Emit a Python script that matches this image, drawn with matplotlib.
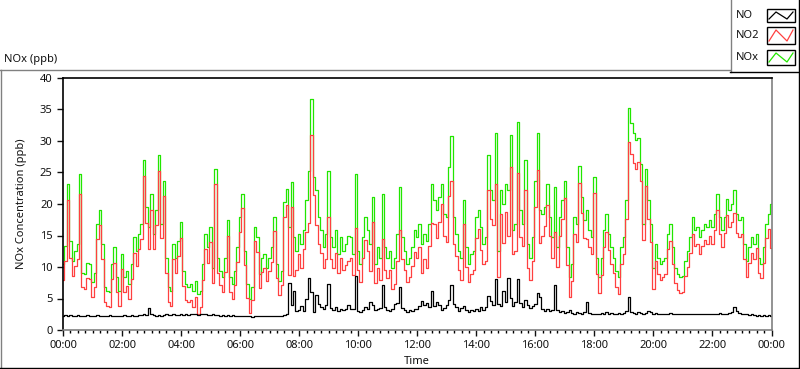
import matplotlib.pyplot as plt
import matplotlib.dates as mdates
from matplotlib.lines import Line2D
from matplotlib.patches import Rectangle
import pandas as pd

# 5-minute readings, 00:00 .. 24:00 (289 values each)
nox = [
    10.5, 13.4, 23.1, 14.2, 11.0, 12.6, 13.7, 24.7, 9.1, 8.9, 10.7, 10.5,
    7.6, 9.1, 16.9, 19.0, 13.7, 6.8, 6.2, 6.0, 10.5, 13.1, 8.4, 6.2,
    12.1, 8.4, 9.4, 7.3, 10.5, 14.7, 12.6, 15.3, 16.9, 27.0, 19.5, 16.3,
    21.6, 15.3, 19.0, 27.7, 16.9, 23.7, 11.5, 6.8, 6.2, 13.7, 11.5, 14.2,
    17.1, 9.4, 7.3, 6.8, 7.3, 6.2, 7.8, 5.7, 6.2, 10.5, 15.3, 13.1,
    16.3, 9.9, 25.6, 11.5, 9.4, 8.4, 11.5, 17.4, 8.4, 7.3, 9.4, 13.1,
    17.9, 21.6, 12.6, 7.3, 5.0, 6.8, 16.3, 14.7, 8.9, 11.5, 12.1, 9.9,
    11.5, 13.1, 17.9, 10.5, 7.8, 9.4, 20.3, 22.4, 16.3, 23.5, 14.7, 12.6,
    15.3, 13.7, 15.8, 20.6, 25.3, 36.6, 24.3, 22.2, 17.9, 15.8, 13.1, 15.3,
    25.3, 14.7, 13.1, 15.8, 12.1, 14.7, 12.6, 13.7, 15.0, 14.7, 12.1, 24.8,
    12.6, 10.5, 14.7, 17.9, 15.8, 13.7, 21.1, 10.5, 13.1, 11.5, 21.6, 13.1,
    11.5, 12.6, 9.9, 11.5, 15.3, 22.7, 14.7, 12.6, 10.5, 11.5, 13.1, 15.8,
    14.7, 16.9, 13.7, 15.3, 14.2, 16.9, 23.2, 20.6, 19.0, 21.1, 23.2, 18.4,
    17.9, 25.9, 30.8, 17.9, 15.3, 12.6, 11.5, 20.6, 13.1, 10.5, 12.1, 12.6,
    17.9, 19.0, 16.3, 13.7, 14.7, 27.7, 22.2, 20.6, 31.2, 12.6, 22.2, 20.0,
    23.2, 22.2, 30.9, 15.8, 16.9, 33.0, 19.0, 16.9, 27.0, 13.7, 11.5, 14.7,
    23.7, 31.2, 19.0, 18.4, 19.5, 23.2, 17.9, 14.7, 22.7, 13.1, 17.9, 20.6,
    23.7, 13.1, 8.4, 10.5, 17.9, 16.9, 26.1, 21.1, 17.4, 19.0, 15.8, 14.7,
    24.3, 11.5, 8.4, 11.5, 15.8, 18.4, 15.3, 13.1, 11.5, 9.4, 8.4, 13.1,
    14.7, 20.6, 35.2, 32.8, 31.2, 30.1, 30.4, 26.4, 16.9, 25.6, 20.6, 16.9,
    9.8, 13.7, 11.5, 10.5, 11.0, 11.5, 15.3, 16.9, 13.1, 9.9, 8.9, 8.4,
    8.6, 11.0, 12.6, 14.7, 17.9, 15.8, 16.3, 14.7, 15.8, 16.9, 16.3, 17.4,
    16.3, 18.4, 21.6, 17.9, 15.8, 17.9, 20.8, 19.0, 20.0, 22.2, 18.4, 17.4,
    17.9, 13.7, 11.0, 13.1, 14.7, 13.7, 15.3, 11.5, 10.5, 13.1, 16.9, 18.4,
    20.0,
]

no2 = [
    8.0, 10.9, 20.6, 11.5, 8.6, 10.1, 11.2, 21.6, 6.8, 6.5, 8.2, 8.1,
    5.2, 6.8, 14.4, 16.6, 11.3, 4.4, 3.8, 3.6, 8.1, 10.7, 6.1, 3.8,
    9.7, 6.0, 7.0, 4.9, 8.1, 12.3, 10.2, 12.9, 14.4, 24.4, 17.0, 12.8,
    19.0, 12.9, 16.6, 25.2, 14.6, 21.2, 9.0, 4.4, 3.8, 11.2, 9.1, 11.8,
    14.6, 7.0, 4.8, 4.4, 4.8, 3.6, 5.3, 2.6, 3.7, 7.9, 12.8, 10.7,
    13.9, 7.4, 23.2, 9.1, 7.1, 6.0, 9.2, 15.0, 6.1, 4.9, 7.1, 10.8,
    15.6, 19.4, 10.3, 5.1, 2.7, 4.7, 14.1, 12.4, 6.7, 9.2, 9.8, 7.7,
    9.3, 10.8, 15.7, 8.2, 5.6, 7.1, 17.9, 19.9, 8.8, 19.5, 8.5, 9.6,
    12.1, 9.9, 12.8, 15.6, 17.0, 31.0, 21.5, 16.7, 13.7, 12.2, 9.8, 11.3,
    18.0, 11.2, 9.9, 12.2, 9.1, 11.4, 9.5, 10.3, 11.0, 11.4, 8.7, 16.2,
    9.6, 7.6, 11.5, 14.3, 12.5, 9.3, 17.1, 7.4, 9.8, 8.0, 14.5, 9.5,
    8.3, 9.6, 6.5, 7.3, 11.0, 15.9, 11.2, 9.5, 7.6, 8.4, 10.1, 12.4,
    11.4, 13.1, 9.1, 11.3, 9.9, 13.3, 17.0, 16.8, 14.6, 17.2, 20.0, 14.9,
    13.9, 21.2, 23.7, 13.7, 11.7, 9.6, 8.0, 16.8, 10.0, 7.6, 8.9, 9.6,
    14.6, 16.0, 12.7, 10.5, 11.0, 22.3, 17.6, 16.6, 23.1, 8.4, 18.4, 13.8,
    18.7, 15.0, 25.8, 12.0, 12.5, 24.9, 14.7, 13.3, 22.2, 9.8, 8.0, 10.9,
    19.5, 25.4, 13.8, 15.0, 16.5, 19.9, 14.9, 11.5, 15.6, 10.0, 15.0, 17.6,
    21.0, 10.3, 5.3, 7.8, 15.3, 14.0, 23.4, 18.5, 14.6, 14.5, 13.1, 12.1,
    21.8, 8.9, 5.9, 8.8, 13.2, 15.6, 12.7, 10.4, 9.0, 6.8, 5.7, 10.5,
    12.0, 17.6, 29.9, 27.9, 26.5, 25.5, 26.6, 23.7, 14.3, 22.9, 17.6, 14.0,
    6.5, 11.0, 8.9, 8.0, 8.4, 8.9, 12.8, 14.2, 10.5, 7.4, 6.3, 5.8,
    6.0, 8.5, 10.0, 12.2, 15.3, 13.3, 13.7, 12.1, 13.3, 14.3, 13.7, 14.9,
    13.7, 15.9, 19.0, 15.2, 13.2, 15.4, 18.2, 16.3, 17.1, 18.6, 15.4, 14.7,
    15.3, 11.2, 8.4, 10.7, 12.2, 11.3, 13.0, 9.1, 8.3, 10.7, 14.6, 16.0,
    13.0,
]

no = [
    2.3, 2.4, 2.3, 2.4, 2.3, 2.3, 2.4, 2.3, 2.2, 2.3, 2.4, 2.3,
    2.3, 2.3, 2.4, 2.3, 2.2, 2.3, 2.3, 2.4, 2.3, 2.3, 2.2, 2.3,
    2.3, 2.4, 2.3, 2.3, 2.4, 2.3, 2.3, 2.4, 2.4, 2.5, 2.4, 3.5,
    2.6, 2.4, 2.3, 2.4, 2.3, 2.4, 2.5, 2.4, 2.4, 2.5, 2.4, 2.4,
    2.5, 2.4, 2.5, 2.4, 2.5, 2.6, 2.5, 2.4, 2.5, 2.6, 2.5, 2.4,
    2.4, 2.5, 2.4, 2.4, 2.3, 2.4, 2.3, 2.4, 2.3, 2.4, 2.3, 2.3,
    2.3, 2.2, 2.3, 2.2, 2.2, 2.1, 2.2, 2.3, 2.2, 2.3, 2.3, 2.2,
    2.2, 2.3, 2.2, 2.3, 2.2, 2.3, 2.4, 2.5, 7.5, 4.0, 6.2, 3.0,
    3.2, 3.8, 3.0, 5.0, 8.3, 6.0, 2.8, 5.5, 4.2, 3.6, 3.3, 4.0,
    7.3, 3.5, 3.2, 3.6, 3.0, 3.3, 3.1, 3.4, 4.0, 3.3, 3.4, 8.6,
    3.0, 2.9, 3.2, 3.6, 3.3, 4.4, 4.0, 3.1, 3.3, 3.5, 7.1, 3.6,
    3.2, 3.0, 3.4, 4.2, 4.3, 6.8, 3.5, 3.1, 2.9, 3.1, 3.0, 3.4,
    3.3, 3.8, 4.6, 4.0, 4.3, 3.6, 6.2, 3.8, 4.4, 3.9, 3.2, 3.5,
    4.0, 4.7, 7.1, 4.2, 3.6, 3.0, 3.5, 3.8, 3.1, 2.9, 3.2, 3.0,
    3.3, 3.0, 3.6, 3.2, 3.7, 5.4, 4.6, 4.0, 8.1, 4.2, 3.8, 6.2,
    4.5, 8.3, 5.1, 3.8, 4.4, 8.1, 4.3, 3.6, 4.8, 3.9, 3.5, 3.8,
    4.2, 5.8, 5.2, 3.4, 3.0, 3.3, 3.0, 3.2, 7.1, 3.1, 2.9, 3.0,
    2.7, 2.8, 3.1, 2.7, 2.6, 2.9, 2.7, 2.6, 2.8, 4.5, 2.7, 2.6,
    2.5, 2.6, 2.5, 2.7, 2.6, 2.8, 2.6, 2.7, 2.5, 2.6, 2.7, 2.6,
    2.7, 3.0, 5.3, 2.9, 2.7, 2.6, 2.8, 2.7, 2.6, 2.7, 3.0, 2.9,
    2.6, 2.7, 2.6, 2.5, 2.6, 2.6, 2.5, 2.7, 2.6, 2.5, 2.6, 2.6,
    2.6, 2.5, 2.6, 2.5, 2.6, 2.5, 2.6, 2.6, 2.5, 2.6, 2.6, 2.5,
    2.6, 2.5, 2.6, 2.7, 2.6, 2.5, 2.6, 2.7, 2.9, 3.6, 3.0, 2.7,
    2.6, 2.5, 2.6, 2.4, 2.5, 2.4, 2.3, 2.4, 2.2, 2.4, 2.3, 2.4,
    2.3,
]

times = pd.date_range("2020-01-01 00:00", "2020-01-02 00:00", freq="5min")

plt.rcParams['font.family'] = ['Noto Sans', 'DejaVu Sans']
W, H = 800, 369

def fx(px):
    return px / W

def fy(py):
    return 1 - py / H

fig = plt.figure(figsize=(8, 3.69), dpi=100)
ax = fig.add_axes([fx(63), fy(330), (771.5 - 63) / W, (330 - 78) / H])

ax.plot(times, nox, color='#22e600', lw=0.9, drawstyle='steps-mid')
ax.plot(times, no2, color='#ff4040', lw=0.9, drawstyle='steps-mid')
ax.plot(times, no, color='black', lw=0.9, drawstyle='steps-mid')

ax.set_xlim(times[0], times[-1])
ax.set_ylim(0, 40)
ax.set_yticks(range(0, 41, 5))
ax.xaxis.set_major_locator(mdates.HourLocator(byhour=range(0, 24, 2)))
ax.xaxis.set_minor_locator(mdates.MinuteLocator(byminute=[0, 15, 30, 45]))
ax.xaxis.set_major_formatter(mdates.DateFormatter('%H:%M'))
ax.tick_params(axis='both', labelsize=8, colors='#111111', length=4, width=1)
ax.tick_params(axis='x', which='minor', length=2.5, width=1)
ax.spines['top'].set_color('black')
ax.spines['left'].set_color('black')
ax.spines['right'].set_color('#808080')
ax.spines['bottom'].set_color('#808080')
for s in ax.spines.values():
    s.set_linewidth(1.2)

ax.set_xlabel('Time', fontsize=8, labelpad=3, color='#111111')
ax.set_ylabel('NOx Concentration (ppb)', fontsize=8, labelpad=9, color='#111111')

# outer panel frame
tf = fig.transFigure
fig.add_artist(Line2D([fx(0), fx(730)], [fy(69.5), fy(69.5)], color='#808080', lw=1, transform=tf))
fig.add_artist(Line2D([fx(0.5), fx(0.5)], [fy(69.5), fy(368)], color='#808080', lw=1, transform=tf))
fig.add_artist(Line2D([fx(0), fx(799)], [fy(367.5), fy(367.5)], color='black', lw=1, transform=tf))
fig.add_artist(Line2D([fx(798.5), fx(798.5)], [fy(0), fy(368)], color='black', lw=1, transform=tf))

fig.text(fx(4), fy(59.5), 'NOx (ppb)', fontsize=8, va='center', ha='left', color='#111111')

# legend box
fig.add_artist(Line2D([fx(730.5), fx(730.5)], [fy(0), fy(72)], color='#808080', lw=1, transform=tf))
fig.add_artist(Line2D([fx(730), fx(799)], [fy(71.5), fy(71.5)], color='black', lw=1, transform=tf))

names = ['NO', 'NO2', 'NOx']
colors = ['black', '#ff4040', '#22e600']
boxes = [(9, 13), (27, 17), (50, 15)]
for name, col, (top, h) in zip(names, colors, boxes):
    fig.text(fx(736), fy(top + h / 2), name, fontsize=8, va='center', ha='left', color='#111111')
    fig.add_artist(Rectangle((fx(767), fy(top + h)), 28 / W, h / H, transform=tf,
                             facecolor='white', edgecolor='black', lw=1))
    zx = [769, 776, 787, 793]
    zy = [top + h - 3, top + 3, top + h - 3, top + 3]
    fig.add_artist(Line2D([fx(v) for v in zx], [fy(v) for v in zy], color=col, lw=0.9, transform=tf))

fig.savefig('out.png', dpi=100)
